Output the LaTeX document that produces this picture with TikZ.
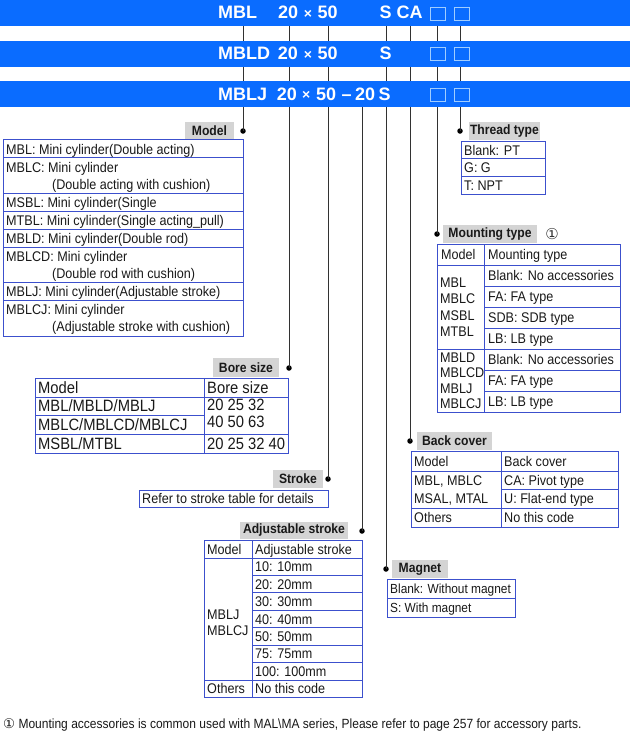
\documentclass[tikz,border=0pt]{standalone}
\usepackage{fontspec}
\setmainfont[FakeStretch=0.9]{Liberation Sans}
\newfontfamily\barfont{Liberation Sans}
\newfontfamily\symfont{DejaVu Sans}
\definecolor{barblue}{RGB}{10,108,255}
\definecolor{sqcol}{RGB}{160,205,255}
\definecolor{tblue}{RGB}{60,80,205}
\definecolor{tcol}{RGB}{25,25,25}
\definecolor{lgrey}{RGB}{212,212,212}
\definecolor{leadcol}{RGB}{50,50,50}
\newcommand\tabfont{\fontsize{14}{16}\selectfont}
\newcommand\magfont{\fontsize{13.2}{15}\selectfont}
\newcommand\borefont{\fontsize{16.4}{18}\selectfont}
\newcommand\lblfont{\bfseries\fontsize{13.5}{15}\selectfont}
\newcommand\notefont{\fontsize{13.35}{15}\selectfont}
\newcommand\barfnt{\barfont\bfseries\fontsize{18}{20}\selectfont}
\newcommand\timesfnt{\barfont\bfseries\fontsize{14}{16}\selectfont}
\begin{document}
\begin{tikzpicture}[x=1pt,y=-1pt,
  bar/.style={fill=barblue, minimum width=630pt, inner sep=0, draw=none, anchor=north west},
  bartxt/.style={anchor=base west, inner sep=0, font=\barfnt, text=white},
  bartimes/.style={anchor=base, inner sep=0, font=\timesfnt, text=white},
  sq/.style={draw=sqcol, line width=0.9pt, minimum width=15pt, minimum height=13pt, inner sep=0},
  tline/.style={draw=tblue, line width=0.9pt},
  txt/.style={anchor=base west, inner sep=0, font=\tabfont, text=tcol},
  mtxt/.style={anchor=base west, inner sep=0, font=\magfont, text=tcol},
  btxt/.style={anchor=base west, inner sep=0, font=\borefont, text=tcol},
  lbl/.style={fill=lgrey, inner sep=0, font=\lblfont, text=tcol},
  lead/.style={draw=leadcol, line width=0.9pt},
  dotc/.style={circle, fill=black, inner sep=0, minimum size=5.5pt}]
\useasboundingbox (0,0) rectangle (630,732);
\fill[white] (0,0) rectangle (630,732);

% ---------- leader end points and dots
\coordinate (tModel) at (243,26);
\coordinate (tBore) at (289,26);
\coordinate (tStroke) at (328,26);
\coordinate (tAdj) at (362,107);
\coordinate (tMag) at (386,26);
\coordinate (tBack) at (410,26);
\coordinate (tMount) at (437,26);
\coordinate (tThread) at (460,26);
\node[dotc] (dModel) at (243,131) {};
\node[dotc] (dBore) at (289,368) {};
\node[dotc] (dStroke) at (328,479) {};
\node[dotc] (dAdj) at (362,531) {};
\node[dotc] (dMag) at (386,569) {};
\node[dotc] (dBack) at (410,441) {};
\node[dotc] (dMount) at (437,234) {};
\node[dotc] (dThread) at (460,131) {};
\draw[lead] (tModel) -- (dModel.center);
\draw[lead] (tBore) -- (dBore.center);
\draw[lead] (tStroke) -- (dStroke.center);
\draw[lead] (tAdj) -- (dAdj.center);
\draw[lead] (tMag) -- (dMag.center);
\draw[lead] (tBack) -- (dBack.center);
\draw[lead] (tMount) -- (dMount.center);
\draw[lead] (tThread) -- (dThread.center);

% ---------- bars
\node[bar, minimum height=26pt] (bar1) at (0,0) {};
\node[bar, minimum height=26.3pt] (bar2) at (0,40.7) {};
\node[bar, minimum height=26pt] (bar3) at (0,81) {};

\node[bartxt] (a1) at (218,18.5) {MBL};
\node[bartxt] (a2) at (278,18.5) {20};
\node[bartimes] (a3) at (308,18) {×};
\node[bartxt] (a4) at (317.5,18.5) {50};
\node[bartxt] (a5) at (379.5,18.5) {S};
\node[bartxt] (a6) at (396.5,18.5) {CA};
\node[sq] (a7) at (437.5,13.5) {};
\node[sq] (a8) at (461.5,13.5) {};

\node[bartxt] (b1) at (218,59.5) {MBLD};
\node[bartxt] (b2) at (277.7,59.5) {20};
\node[bartimes] (b3) at (308,59) {×};
\node[bartxt] (b4) at (317.5,59.5) {50};
\node[bartxt] (b5) at (379.5,59.5) {S};
\node[sq] (b7) at (437.5,54) {};
\node[sq] (b8) at (461.5,54) {};

\node[bartxt] (c1) at (218,100) {MBLJ};
\node[bartxt] (c2) at (276.7,100) {20};
\node[bartimes] (c3) at (306.3,99.5) {×};
\node[bartxt] (c4) at (316,100) {50};
\node[bartxt] (c5) at (341.5,100) {–};
\node[bartxt] (c6) at (355,100) {20};
\node[bartxt] (c7) at (378.5,100) {S};
\node[sq] (c8) at (437.5,94.5) {};
\node[sq] (c9) at (461.5,94.5) {};

% ---------- labels
\node[lbl, minimum width=49pt, minimum height=17pt] (lModel) at (209.5,130.5) {Model};
\node[lbl, minimum width=71pt, minimum height=18pt] (lThread) at (504.5,131) {Thread type};
\node[lbl, minimum width=94pt, minimum height=18pt] (lMount) at (490,234) {Mounting type};
\node[inner sep=0, font=\symfont\fontsize{15}{16}\selectfont, text=leadcol] (circ) at (552,234) {①};
\node[lbl, minimum width=66pt, minimum height=19pt] (lBore) at (246,367.5) {Bore size};
\node[lbl, minimum width=50pt, minimum height=18pt] (lStroke) at (298,479) {Stroke};
\node[lbl, minimum width=108pt, minimum height=17pt] (lAdj) at (294,530.5) {Adjustable stroke};
\node[lbl, minimum width=56pt, minimum height=18pt] (lMag) at (420,569) {Magnet};
\node[lbl, minimum width=75pt, minimum height=18pt] (lBack) at (454.5,441) {Back cover};

% ---------- Model table
\draw[tline] (3,139) rectangle (243,336);
\foreach \yy in {157.5,193,211,229,247,282,300} \draw[tline] (3,\yy) -- (243,\yy);
\node[txt] (m1) at (6,154) {MBL: Mini cylinder(Double acting)};
\node[txt] (m2) at (6,172) {MBLC: Mini cylinder};
\node[txt] (m3) at (52,189) {(Double acting with cushion)};
\node[txt] (m4) at (6,207) {MSBL: Mini cylinder(Single};
\node[txt] (m5) at (6,225) {MTBL: Mini cylinder(Single acting\_pull)};
\node[txt] (m6) at (6,243) {MBLD: Mini cylinder(Double rod)};
\node[txt] (m7) at (6,261) {MBLCD: Mini cylinder};
\node[txt] (m8) at (52,278) {(Double rod with cushion)};
\node[txt] (m9) at (6,296) {MBLJ: Mini cylinder(Adjustable stroke)};
\node[txt] (m10) at (6,314) {MBLCJ: Mini cylinder};
\node[txt] (m11) at (52,331) {(Adjustable stroke with cushion)};

% ---------- Thread table
\draw[tline] (461,141) rectangle (545,194);
\foreach \yy in {158.5,176} \draw[tline] (461,\yy) -- (545,\yy);
\node[txt] (t1) at (464,155) {Blank: PT};
\node[txt] (t2) at (464,172.5) {G: G};
\node[txt] (t3) at (464,190) {T: NPT};

% ---------- Mounting table
\draw[tline] (437,244) rectangle (620,412);
\draw[tline] (484,244) -- (484,412);
\foreach \yy in {265,349} \draw[tline] (437,\yy) -- (620,\yy);
\foreach \yy in {286,307,328,370,391} \draw[tline] (484,\yy) -- (620,\yy);
\node[txt] (u0) at (441,259.5) {Model};
\node[txt] (u1) at (488,259.5) {Mounting type};
\node[txt] (u2) at (488,280.5) {Blank: No accessories};
\node[txt] (u3) at (488,301.5) {FA: FA type};
\node[txt] (u4) at (488,322.5) {SDB: SDB type};
\node[txt] (u5) at (488,343.5) {LB: LB type};
\node[txt] (u6) at (488,364.5) {Blank: No accessories};
\node[txt] (u7) at (488,385.5) {FA: FA type};
\node[txt] (u8) at (488,406.5) {LB: LB type};
\node[txt] (v1) at (440,287) {MBL};
\node[txt] (v2) at (440,303.5) {MBLC};
\node[txt] (v3) at (440,320) {MSBL};
\node[txt] (v4) at (440,336.5) {MTBL};
\node[txt] (v5) at (440,362) {MBLD};
\node[txt] (v6) at (440,377.5) {MBLCD};
\node[txt] (v7) at (440,393) {MBLJ};
\node[txt] (v8) at (440,408.5) {MBLCJ};

% ---------- Bore table
\draw[tline] (35,378) rectangle (288,453);
\draw[tline] (204,378) -- (204,453);
\foreach \yy in {397,434} \draw[tline] (35,\yy) -- (288,\yy);
\draw[tline] (35,415.5) -- (204,415.5);
\node[btxt] (o1) at (38,393) {Model};
\node[btxt] (o2) at (207,393) {Bore size};
\node[btxt] (o3) at (38,411.5) {MBL/MBLD/MBLJ};
\node[btxt] (o4) at (38,430) {MBLC/MBLCD/MBLCJ};
\node[btxt] (o5) at (207,410.5) {20 25 32};
\node[btxt] (o6) at (207,427.5) {40 50 63};
\node[btxt] (o7) at (38,449) {MSBL/MTBL};
\node[btxt] (o8) at (207,449) {20 25 32 40};

% ---------- Stroke box
\draw[tline] (139,490) rectangle (328,507);
\node[txt] (s1) at (142,503.5) {Refer to stroke table for details};

% ---------- Adjustable stroke table
\draw[tline] (204,540) rectangle (362,697);
\draw[tline] (252,540) -- (252,697);
\foreach \yy in {558,680} \draw[tline] (204,\yy) -- (362,\yy);
\foreach \yy in {575.43,592.86,610.29,627.71,645.14,662.57} \draw[tline] (252,\yy) -- (362,\yy);
\node[txt] (j0) at (207,554) {Model};
\node[txt] (j1) at (255,554) {Adjustable stroke};
\node[txt] (j2) at (255,571.7) {10: 10mm};
\node[txt] (j3) at (255,589.1) {20: 20mm};
\node[txt] (j4) at (255,606.6) {30: 30mm};
\node[txt] (j5) at (255,624) {40: 40mm};
\node[txt] (j6) at (255,641.4) {50: 50mm};
\node[txt] (j7) at (255,658.9) {75: 75mm};
\node[txt] (j8) at (255,676.3) {100: 100mm};
\node[txt] (j9) at (207,619) {MBLJ};
\node[txt] (j10) at (207,635) {MBLCJ};
\node[txt] (j11) at (207,693.5) {Others};
\node[txt] (j12) at (255,693.5) {No this code};

% ---------- Magnet table
\draw[tline] (387,579) rectangle (515,617);
\draw[tline] (387,598) -- (515,598);
\node[mtxt] (g1) at (390,593.5) {Blank: Without magnet};
\node[mtxt] (g2) at (390,612.5) {S: With magnet};

% ---------- Back cover table
\draw[tline] (411,451) rectangle (618,527);
\draw[tline] (501,451) -- (501,527);
\foreach \yy in {471,508} \draw[tline] (411,\yy) -- (618,\yy);
\draw[tline] (501,489.5) -- (618,489.5);
\node[txt] (k1) at (414,466) {Model};
\node[txt] (k2) at (504,466) {Back cover};
\node[txt] (k3) at (414,485) {MBL, MBLC};
\node[txt] (k4) at (414,503.5) {MSAL, MTAL};
\node[txt] (k5) at (504,485) {CA: Pivot type};
\node[txt] (k6) at (504,503.5) {U: Flat-end type};
\node[txt] (k7) at (414,522.5) {Others};
\node[txt] (k8) at (504,522.5) {No this code};

% ---------- footnote
\node[anchor=base west, inner sep=0, font=\notefont, text=tcol] (note) at (3,728.5)
  {{\symfont ①}\ Mounting accessories is common used with MAL\textbackslash MA series, Please refer to page 257 for accessory parts.};
\end{tikzpicture}
\end{document}
